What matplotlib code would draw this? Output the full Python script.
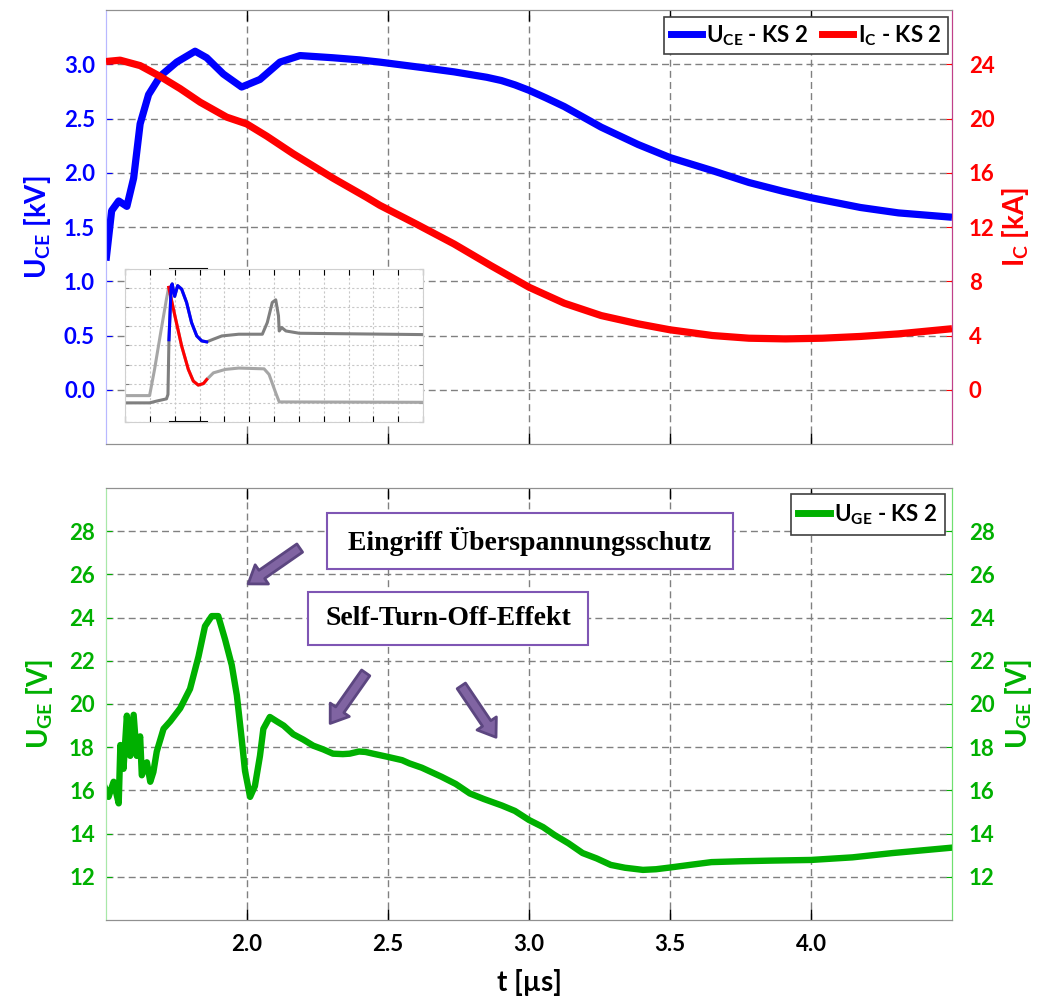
import numpy as np
import matplotlib
matplotlib.use('Agg')
import matplotlib.pyplot as plt
from matplotlib.lines import Line2D
from matplotlib.patches import Rectangle, FancyArrowPatch

plt.rcParams['font.family'] = ['Lato', 'DejaVu Sans']
plt.rcParams['font.weight'] = 'bold'
plt.rcParams['mathtext.fontset'] = 'custom'
plt.rcParams['mathtext.rm'] = 'Lato:bold'
plt.rcParams['mathtext.bf'] = 'Lato:bold'
plt.rcParams['mathtext.it'] = 'Lato:bold'
plt.rcParams['mathtext.default'] = 'bf'

# ---------------- data ----------------
t_uce = [1.50, 1.52, 1.545, 1.574, 1.598, 1.621, 1.651, 1.692, 1.751, 1.816, 1.857,
         1.916, 1.981, 2.046, 2.117, 2.188, 2.304, 2.40, 2.47, 2.53, 2.62, 2.734, 2.85,
         2.902, 2.95, 3.0, 3.06, 3.125, 3.256, 3.387, 3.5, 3.65, 3.78, 3.9, 4.0, 4.175,
         4.31, 4.5]
u_ce = [1.19, 1.65, 1.74, 1.69, 1.95, 2.45, 2.72, 2.89, 3.02, 3.12, 3.06,
        2.91, 2.79, 2.86, 3.02, 3.08, 3.06, 3.04, 3.02, 3.00, 2.97, 2.93, 2.88,
        2.85, 2.81, 2.76, 2.69, 2.61, 2.42, 2.26, 2.14, 2.02, 1.91, 1.83, 1.77, 1.68,
        1.63, 1.59]

t_ic = [1.50, 1.55, 1.621, 1.692, 1.763, 1.834, 1.928, 1.999, 2.07, 2.164, 2.305,
        2.423, 2.471, 2.602, 2.734, 2.865, 3.0, 3.125, 3.256, 3.387, 3.5, 3.65,
        3.78, 3.91, 4.04, 4.175, 4.31, 4.5]
i_c = [24.2, 24.3, 23.9, 23.1, 22.2, 21.2, 20.1, 19.6, 18.7, 17.4, 15.6,
       14.2, 13.6, 12.2, 10.75, 9.15, 7.56, 6.38, 5.47, 4.86, 4.42, 4.0,
       3.8, 3.75, 3.8, 3.93, 4.12, 4.5]

t_uge = [1.497, 1.509, 1.527, 1.545, 1.551, 1.562, 1.574, 1.586, 1.598, 1.609, 1.621,
         1.627, 1.645, 1.657, 1.668, 1.68, 1.704, 1.728, 1.763, 1.798, 1.828, 1.851,
         1.875, 1.898, 1.922, 1.946, 1.964, 1.981, 1.993, 2.011, 2.028, 2.046, 2.058,
         2.081, 2.105, 2.13, 2.164, 2.20, 2.235, 2.27, 2.305, 2.34, 2.364, 2.397, 2.42,
         2.447, 2.5, 2.55, 2.576, 2.62, 2.69, 2.74, 2.79, 2.84, 2.904, 2.95, 3.0, 3.05,
         3.09, 3.14, 3.19, 3.24, 3.29, 3.34, 3.404, 3.45, 3.5, 3.57, 3.647, 3.75, 3.861,
         4.0, 4.147, 4.29, 4.5]
u_ge = [16.1, 15.7, 16.4, 15.4, 18.1, 17.0, 19.46, 17.6, 19.5, 17.6, 18.5,
        16.7, 17.3, 16.4, 16.85, 17.8, 18.85, 19.2, 19.8, 20.7, 22.2, 23.6,
        24.07, 24.07, 23.0, 21.8, 20.4, 18.4, 16.9, 15.7, 16.2, 17.6, 18.85,
        19.4, 19.2, 19.0, 18.6, 18.35, 18.07, 17.9, 17.7, 17.68, 17.7, 17.8, 17.78,
        17.7, 17.55, 17.4, 17.25, 17.05, 16.63, 16.3, 15.86, 15.6, 15.3, 15.05, 14.63, 14.3,
        13.94, 13.55, 13.1, 12.85, 12.55, 12.42, 12.32, 12.35, 12.43, 12.55, 12.68, 12.72, 12.75,
        12.78, 12.9, 13.1, 13.35]

# inset thumbnail (arbitrary units 0..12 x 0..8)
ins_light_x = [0, 0.99, 1.19, 1.46, 1.67, 1.76, 2.01, 2.28, 2.55, 2.75, 2.95, 3.16, 3.29,
               3.56, 4.04, 4.58, 5.6, 5.8, 6.07, 6.21, 12]
ins_light_y = [1.38, 1.38, 2.75, 4.85, 6.43, 7.04, 5.55, 3.98, 2.75, 2.14, 1.93, 2.01, 2.22,
               2.57, 2.75, 2.82, 2.78, 2.49, 1.52, 1.05, 1.03]
ins_red_x = [1.76, 2.01, 2.28, 2.55, 2.75, 2.95, 3.16, 3.29]
ins_red_y = [7.04, 5.55, 3.98, 2.75, 2.14, 1.93, 2.01, 2.22]
ins_dark_x = [0, 0.99, 1.26, 1.67, 1.73, 1.77, 1.86, 1.90, 2.00, 2.12, 2.28, 2.48, 2.68,
              2.89, 3.09, 3.29, 3.56, 3.9, 4.58, 5.53, 5.73, 5.93, 6.07, 6.18, 6.21,
              6.31, 6.48, 7.02, 12]
ins_dark_y = [1.0, 1.0, 1.09, 1.21, 1.44, 4.3, 7.1, 7.22, 6.57, 7.13, 6.95, 6.25, 5.2,
              4.5, 4.24, 4.19, 4.33, 4.5, 4.59, 4.59, 5.2, 6.25, 6.39, 5.55, 4.76,
              4.94, 4.76, 4.64, 4.57]
ins_blue_x = [1.77, 1.86, 1.90, 2.00, 2.12, 2.28, 2.48, 2.68, 2.89, 3.09, 3.29]
ins_blue_y = [4.3, 7.1, 7.22, 6.57, 7.13, 6.95, 6.25, 5.2, 4.5, 4.24, 4.19]

x_ticks = [2.0, 2.5, 3.0, 3.5, 4.0]
u_ticks = [0.0, 0.5, 1.0, 1.5, 2.0, 2.5, 3.0]
i_ticks = [0, 4, 8, 12, 16, 20, 24]
g_ticks = [12, 14, 16, 18, 20, 22, 24, 26, 28]

BLUE = '#0000ff'
RED = '#ff0000'
GREEN = '#00b000'
GRIDC = '#808080'
TS = 16
LS = 20

fig = plt.figure(figsize=(10.38, 10.0), dpi=100)
L, R = 106/1038, 952/1038
ax1 = fig.add_axes([L, 0.556, R - L, 0.434])
ax3 = fig.add_axes([L, 0.080, R - L, 0.432])

for ax in (ax1, ax3):
    ax.set_xlim(1.5, 4.5)
    ax.set_xticks(x_ticks)
    ax.grid(True, color=GRIDC, linestyle=(0, (5, 3)), linewidth=1.0)
    ax.tick_params(axis='x', direction='in', length=8, width=1, color='black',
                   top=True, bottom=True, labelsize=TS)
    ax.spines['top'].set_color('#909090')
    ax.spines['bottom'].set_color('#909090')

# ---------------- top plot ----------------
ax1.set_ylim(-0.5, 3.5)
ax1.set_yticks(u_ticks)
ax1.set_yticklabels([f'{v:.1f}' for v in u_ticks])
ax1.tick_params(axis='x', labelbottom=False)
ax1.tick_params(axis='y', direction='in', length=4, color=BLUE, labelcolor=BLUE,
                labelsize=TS, pad=8)
ax1.plot(t_uce, u_ce, color=BLUE, lw=5.2, solid_capstyle='butt', solid_joinstyle='round',
         zorder=3)
ax1.set_ylabel(r'U$_{\mathbf{CE}}$ [kV]', color=BLUE, fontsize=LS, fontweight='bold',
               labelpad=8)
ax1.spines['left'].set_color('#b8b8ff')
ax1.spines['right'].set_color('#c0408a')

ax2 = ax1.twinx()
ax2.set_ylim(-4, 28)
ax2.set_yticks(i_ticks)
ax2.tick_params(axis='y', direction='in', length=4, color=RED, labelcolor=RED,
                labelsize=TS, pad=12)
ax2.plot(t_ic, i_c, color=RED, lw=5.2, solid_capstyle='butt', solid_joinstyle='round',
         zorder=3)
ax2.set_ylabel(r'I$_{\mathbf{C}}$ [kA]', color=RED, fontsize=LS, fontweight='bold',
               labelpad=4)
ax2.spines['right'].set_color('#c0408a')
ax2.spines['left'].set_color('#b8b8ff')
ax2.spines['top'].set_color('#909090')
ax2.spines['bottom'].set_color('#909090')

h = [Line2D([], [], color=BLUE, lw=5), Line2D([], [], color=RED, lw=5)]
leg = ax2.legend(h, [r'U$_{\mathbf{CE}}$ - KS 2', r'I$_{\mathbf{C}}$ - KS 2'],
                 loc='upper right', bbox_to_anchor=(0.995, 0.985), ncol=2,
                 handlelength=1.4, handletextpad=0.2, columnspacing=0.6,
                 borderpad=0.3, borderaxespad=0.0, fancybox=False,
                 edgecolor='#404040', framealpha=1,
                 prop={'weight': 'bold', 'size': 16})
leg.get_frame().set_linewidth(1.2)

# inset
axi = fig.add_axes([125/1038, 1 - 422/1000, 298/1038, 153/1000])
axi.set_xlim(0, 12)
axi.set_ylim(0, 8)
axi.set_xticks(range(0, 13))
axi.set_yticks(range(0, 9))
axi.set_xticklabels([])
axi.set_yticklabels([])
axi.grid(True, color='#c8c8c8', linestyle=(0, (2, 2)), linewidth=0.8)
axi.tick_params(axis='x', direction='in', length=4, color='black', top=True, bottom=True)
axi.tick_params(axis='y', direction='in', length=3, color='#808080', left=True, right=True)
for s in axi.spines.values():
    s.set_color('#d0d0d0')
axi.plot(ins_light_x, ins_light_y, color='#a6a6a6', lw=2.2)
axi.plot(ins_dark_x, ins_dark_y, color='#7f7f7f', lw=2.2)
axi.plot(ins_red_x, ins_red_y, color=RED, lw=2.2)
axi.plot(ins_blue_x, ins_blue_y, color=BLUE, lw=2.2)
axi.plot([1.8, 3.3], [1, 1], transform=axi.get_xaxis_transform(), color='black',
         lw=1.5, clip_on=False)
axi.plot([1.8, 3.3], [0, 0], transform=axi.get_xaxis_transform(), color='black',
         lw=1.5, clip_on=False)

# ---------------- bottom plot ----------------
ax3.set_ylim(10, 30)
ax3.set_yticks(g_ticks)
ax3.tick_params(axis='y', direction='in', length=4, color=GREEN, labelcolor=GREEN,
                labelsize=TS, pad=8)
ax3.plot(t_uge, u_ge, color=GREEN, lw=4.6, solid_joinstyle='round', zorder=3)
ax3.set_ylabel(r'U$_{\mathbf{GE}}$ [V]', color=GREEN, fontsize=LS, fontweight='bold',
               labelpad=10)
ax3.set_xlabel(r't [µs]', fontsize=LS, fontweight='bold', labelpad=10)
ax3.tick_params(axis='x', pad=10)
ax3.spines['left'].set_color('#a8e8a8')
ax3.spines['right'].set_color('#70e070')

ax4 = ax3.twinx()
ax4.set_ylim(10, 30)
ax4.set_yticks(g_ticks)
ax4.tick_params(axis='y', direction='in', length=4, color=GREEN, labelcolor=GREEN,
                labelsize=TS, pad=12)
ax4.set_ylabel(r'U$_{\mathbf{GE}}$ [V]', color=GREEN, fontsize=LS, fontweight='bold',
               rotation=90, labelpad=6)
ax4.spines['left'].set_color('#a8e8a8')
ax4.spines['right'].set_color('#70e070')
ax4.spines['top'].set_color('#909090')
ax4.spines['bottom'].set_color('#909090')

leg2 = ax4.legend([Line2D([], [], color=GREEN, lw=5)], [r'U$_{\mathbf{GE}}$ - KS 2'],
                  loc='upper right', bbox_to_anchor=(0.992, 0.985),
                  handlelength=1.4, handletextpad=0.2, borderpad=0.35, borderaxespad=0.0,
                  fancybox=False, edgecolor='#404040', framealpha=1,
                  prop={'weight': 'bold', 'size': 16})
leg2.get_frame().set_linewidth(1.2)

# annotation boxes
PURPLE_EDGE = '#7f56b4'
ax4.add_patch(Rectangle((0.261, 0.8125), 0.480, 0.1295, transform=ax4.transAxes,
                        fc='white', ec=PURPLE_EDGE, lw=1.5, zorder=5))
ax4.text(0.501, 0.877, 'Eingriff Überspannungsschutz', transform=ax4.transAxes,
         ha='center', va='center', fontsize=20, fontweight='bold',
         family='Liberation Serif', zorder=6)
ax4.add_patch(Rectangle((0.239, 0.637), 0.331, 0.122, transform=ax4.transAxes,
                        fc='white', ec=PURPLE_EDGE, lw=1.5, zorder=5))
ax4.text(0.4045, 0.698, 'Self-Turn-Off-Effekt', transform=ax4.transAxes,
         ha='center', va='center', fontsize=20, fontweight='bold',
         family='Liberation Serif', zorder=6)

arrows = [((0.229, 0.861), (0.168, 0.778)),
          ((0.307, 0.572), (0.265, 0.455)),
          ((0.420, 0.542), (0.461, 0.423))]
for tail, head in arrows:
    ar = FancyArrowPatch(tail, head, transform=ax4.transAxes,
                         arrowstyle='simple,head_width=1.05,head_length=0.75,tail_width=0.45',
                         mutation_scale=16, fc='#8064a2', ec='#5c4680', lw=2,
                         shrinkA=0, shrinkB=0, zorder=6)
    ax4.add_patch(ar)

fig.savefig('out.png', dpi=100)
